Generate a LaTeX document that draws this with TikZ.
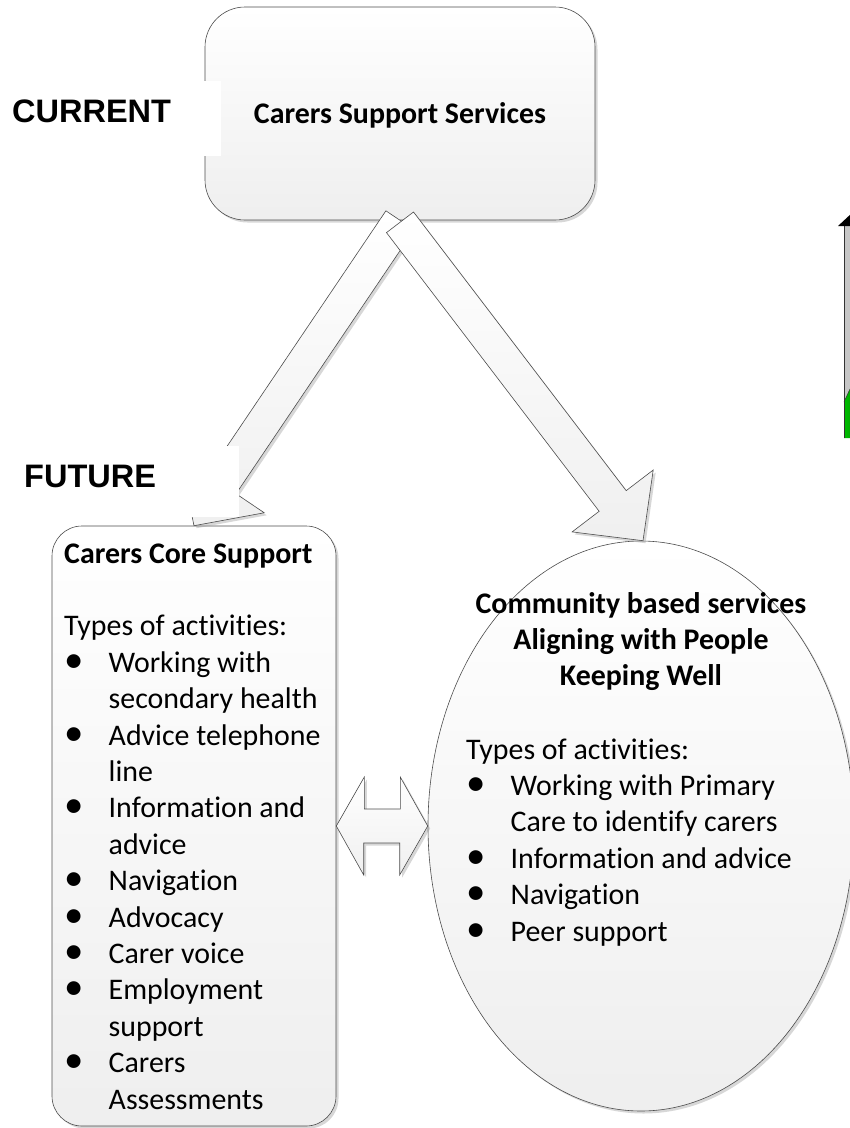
\documentclass[tikz,border=0pt]{standalone}
\usepackage{fontspec}
\setmainfont{Carlito}[RawFeature={-liga;-dlig;-clig}]
\newfontfamily\labelfont{Liberation Sans}
\usetikzlibrary{shadows,calc,shapes.geometric}
\newcommand\bulletglyph{\raisebox{0pt}{\scalebox{1.3}{\char"2022}}}
\newcommand\bitem[1]{\makebox[44.5pt][l]{\bulletglyph}#1}
\newcommand\contline[1]{\hspace*{44.5pt}#1}
\newcommand\bodysize{\fontsize{29.9}{36.4}\selectfont}
\tikzset{
  boxshape/.style={draw=black!70, line width=0.6pt, top color=white, bottom color=gray!13,
    drop shadow={shadow xshift=2.5pt, shadow yshift=-2.5pt, fill=gray!70, opacity=0.45}},
  arrowshape/.style={draw=black!70, line width=0.6pt, top color=white, bottom color=gray!12,
    drop shadow={shadow xshift=2.5pt, shadow yshift=-2.5pt, fill=gray!70, opacity=0.45}},
  bodytext/.style={inner sep=0pt, font=\bodysize},
  labeltext/.style={inner sep=0pt, font=\labelfont\bfseries\fontsize{32.5}{38}\selectfont},
}
\begin{document}
\begin{tikzpicture}[x=1pt,y=-1pt]
\useasboundingbox (0,0) rectangle (850,1128);
\clip (0,0) rectangle (850,1128);

% top box
\node[boxshape, rounded corners=40pt, minimum width=390pt, minimum height=213pt, inner sep=0] (top) at (400,113.5) {};
\node[bodytext, anchor=base] (toptext) at (400,123) {\bfseries Carers Support Services};

% left box
\node[boxshape, rounded corners=30pt, minimum width=284pt, minimum height=600pt, inner sep=0] (core) at (194,826) {};
% ellipse
\node[boxshape, ellipse, minimum width=426pt, minimum height=570pt, inner sep=0] (comm) at (641,826) {};

% block arrows
\coordinate (s1) at ($(top.south)+(0,0)$);
\coordinate (t1) at (core.north);
\coordinate (h1) at ($(t1)!50pt!(s1)$);
\draw[arrowshape] ($(s1)!17pt!90:(t1)$) -- ($(h1)!17pt!-90:(s1)$) -- ($(h1)!51pt!-90:(s1)$) -- (t1)
  -- ($(h1)!51pt!90:(s1)$) -- ($(h1)!17pt!90:(s1)$) -- ($(s1)!17pt!-90:(t1)$) -- cycle;

\coordinate (s2) at ($(top.south)+(0,2)$);
\coordinate (t2) at ($(comm.north)+(2,0)$);
\coordinate (h2) at ($(t2)!50pt!(s2)$);
\draw[arrowshape] ($(s2)!17pt!90:(t2)$) -- ($(h2)!17pt!-90:(s2)$) -- ($(h2)!51pt!-90:(s2)$) -- (t2)
  -- ($(h2)!51pt!90:(s2)$) -- ($(h2)!17pt!90:(s2)$) -- ($(s2)!17pt!-90:(t2)$) -- cycle;

% label boxes
\fill[white] (0,81) rectangle (221,156);
\node[labeltext, anchor=base west] (current) at (12,122) {CURRENT};
\fill[white] (0,446) rectangle (239,517);
\node[labeltext, anchor=base west] (future) at (24,487) {FUTURE};

% left box text
\node[bodytext, anchor=base west] (coretext) at (64,563) {\parbox[t]{280pt}{\raggedright
\bodysize
\textbf{Carers Core Support}\\
\mbox{}\\
Types of activities:\\
\bitem{Working with}\\
\contline{secondary health}\\
\bitem{Advice telephone}\\
\contline{line}\\
\bitem{Information and}\\
\contline{advice}\\
\bitem{Navigation}\\
\bitem{Advocacy}\\
\bitem{Carer voice}\\
\bitem{Employment}\\
\contline{support}\\
\bitem{Carers}\\
\contline{Assessments}}};

% ellipse text
\node[bodytext, anchor=base] (commhead) at (641,613) {\parbox[t]{420pt}{\centering
\bodysize\bfseries
Community based services\\
Aligning with People\\
Keeping Well}};
\node[bodytext, anchor=base west] (commlist) at (466,759) {\parbox[t]{380pt}{\raggedright
\bodysize
Types of activities:\\
\bitem{Working with Primary}\\
\contline{Care to identify carers}\\
\bitem{Information and advice}\\
\bitem{Navigation}\\
\bitem{Peer support}}};

% double arrow
\draw[arrowshape] (core.east) -- ++(28,-49) -- ++(0,32) -- ++(36,0) -- ++(0,-32) -- (comm.west)
  -- ++(-28,49) -- ++(0,-32) -- ++(-36,0) -- ++(0,32) -- cycle;

% partial element at right edge
\fill[gray!45] (844,225) rectangle (856,398);
\shade[left color=green!75!black, right color=green!60!black] (844,402) -- (850,389) -- (856,389) -- (856,438) -- (844,438) -- cycle;
\draw[black!80, line width=0.8pt] (844,225) -- (844,438);
\draw[black!80, line width=0.5pt] (844,402) -- (850,389);
\fill[black] (838,226) -- (852,213) -- (856,213) -- (856,226) -- cycle;
\end{tikzpicture}
\end{document}
